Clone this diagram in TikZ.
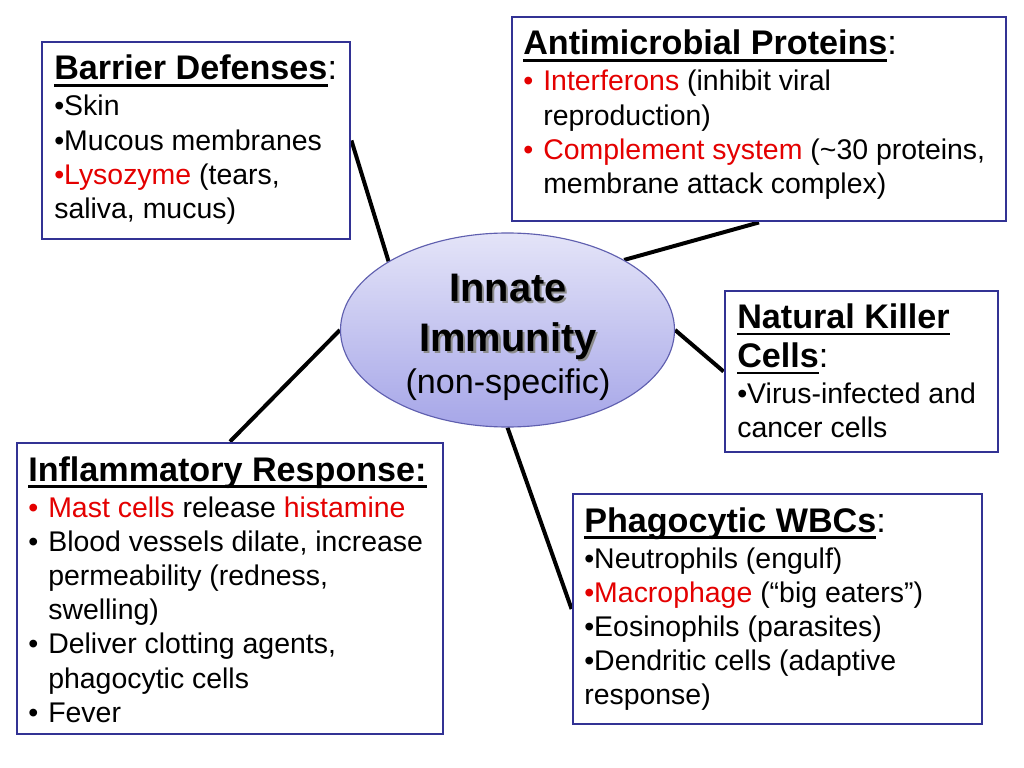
\documentclass[tikz,border=0pt]{standalone}
\usepackage{fontspec}
\setmainfont{Liberation Sans}
\usepackage{tikz}
\usetikzlibrary{shapes.geometric}
\usetikzlibrary{backgrounds}
\newlength{\pxu}
\setlength{\pxu}{0.703125pt}
\definecolor{boxblue}{RGB}{50,50,148}
\definecolor{hubline}{RGB}{95,95,175}
\definecolor{immred}{RGB}{228,0,0}
\tikzset{
  infobox/.style={draw=boxblue, line width=2pt, fill=white, inner sep=0pt},
  hub/.style={ellipse, draw=hubline, line width=0.8pt, top color={rgb,255:red,228;green,228;blue,248}, bottom color={rgb,255:red,166;green,166;blue,232}, inner sep=0pt},
  link/.style={line width=2.8pt, black},
  txt/.style={anchor=base west, inner sep=0pt, font=\fontsize{20}{24}\selectfont},
  hdtxt/.style={anchor=base west, inner sep=0pt, font=\fontsize{24}{28}\selectfont},
  hubtxt/.style={anchor=base, inner sep=0pt}
}
\newcommand{\infobox}[5]{\node[infobox, minimum width={(#4-#2)*\pxu}, minimum height={(#5-#3)*\pxu}] (#1) at ({(#2+#4)/2},{(#3+#5)/2}) {};}
\newcommand{\txtline}[4]{\node[txt] (#1) at (#2,#3) {#4};}
\newcommand{\hdline}[4]{\node[hdtxt] (#1) at (#2,#3) {#4};}
\newcommand{\hd}[1]{\setbox0\hbox{\bfseries #1}\rlap{\rule[-4.8pt]{\wd0}{1.7pt}}\box0}
\newcommand{\bul}{\makebox[20\pxu][l]{•}}
\newcommand{\redtxt}[1]{{\color{immred}#1}}
\newcommand{\bigshadow}[1]{\rlap{\kern1.5pt\raisebox{-1.5pt}{\color{black!45}#1}}#1}

\begin{document}
\begin{tikzpicture}[x=\pxu, y=-\pxu]
        \useasboundingbox (0,0) rectangle (1024,768);
        \begin{scope}[on background layer]
          \fill[white] (0,0) rectangle (1024,768);
        \end{scope}

        % boxes
        \infobox{barrier}{42}{42}{350}{239}
        \infobox{amp}{512}{17}{1006}{221}
        \infobox{nk}{725}{291}{998}{452}
        \infobox{infl}{17}{443}{443}{734}
        \infobox{phago}{573}{494}{982}{724}

        % hub
        \node[hub, minimum width=334*\pxu, minimum height=194*\pxu] (immune) at (507.5,330) {};
        \node[hubtxt, font=\fontsize{28}{32}\selectfont\bfseries] (im1) at (508,301.5) {\bigshadow{Innate}};
        \node[hubtxt, font=\fontsize{28}{32}\selectfont\bfseries] (im2) at (508,351.5) {\bigshadow{Immunity}};
        \node[hubtxt, font=\fontsize{24}{28}\selectfont] (im3) at (508,393) {(non-specific)};

        % barrier defenses
        \hdline{bd1}{54}{80}{\hd{Barrier Defenses}:}
        \txtline{bd2}{54}{116}{•Skin}
        \txtline{bd3}{54}{150.2}{•Mucous membranes}
        \txtline{bd4}{54}{184.4}{\redtxt{•Lysozyme} (tears,}
        \txtline{bd5}{54}{218.6}{saliva, mucus)}

        % antimicrobial proteins
        \hdline{am1}{523}{55}{\hd{Antimicrobial Proteins}:}
        \txtline{am2}{523}{91}{\redtxt{\bul Interferons} (inhibit viral}
        \txtline{am3}{543}{125.2}{reproduction)}
        \txtline{am4}{523}{159.4}{\redtxt{\bul Complement system} (\textasciitilde30 proteins,}
        \txtline{am5}{543}{193.6}{membrane attack complex)}

        % natural killer cells
        \hdline{nk1}{737}{328.5}{\hd{Natural Killer}}
        \hdline{nk2}{737}{367.5}{\hd{Cells}:}
        \txtline{nk3}{737}{403.5}{•Virus-infected and}
        \txtline{nk4}{737}{437.7}{cancer cells}

        % inflammatory response
        \hdline{in1}{28}{481}{\hd{Inflammatory Response:}}
        \txtline{in2}{28}{517}{\redtxt{\bul Mast cells} release \redtxt{histamine}}
        \txtline{in3}{28}{551.2}{\bul Blood vessels dilate, increase}
        \txtline{in4}{48}{585.4}{permeability (redness,}
        \txtline{in5}{48}{619.6}{swelling)}
        \txtline{in6}{28}{653.8}{\bul Deliver clotting agents,}
        \txtline{in7}{48}{688}{phagocytic cells}
        \txtline{in8}{28}{722.2}{\bul Fever}

        % phagocytic wbcs
        \hdline{pw1}{584}{532}{\hd{Phagocytic WBCs}:}
        \txtline{pw2}{584}{568}{•Neutrophils (engulf)}
        \txtline{pw3}{584}{602.2}{\redtxt{•Macrophage} (“big eaters”)}
        \txtline{pw4}{584}{636.4}{•Eosinophils (parasites)}
        \txtline{pw5}{584}{670.6}{•Dendritic cells (adaptive}
        \txtline{pw6}{584}{704.8}{response)}

        % links
        \begin{scope}[on background layer]
          \draw[link] (barrier.east) -- (immune.150);
          \draw[link] (amp.south) -- (immune.31);
          \draw[link] (nk.west) -- (immune.east);
          \draw[link] (infl.north) -- (immune.west);
          \draw[link] (phago.west) -- (immune.south);
        \end{scope}
    \end{tikzpicture}
\end{document}
